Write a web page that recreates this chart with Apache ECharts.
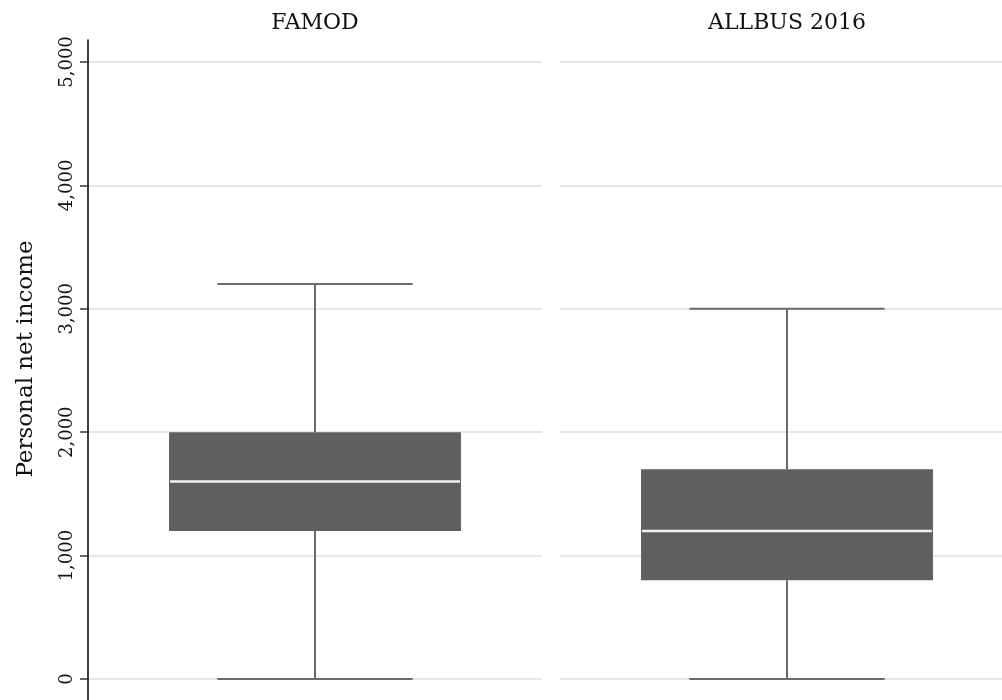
<!DOCTYPE html>
<html>
<head>
<meta charset="utf-8">
<script src="https://cdn.jsdelivr.net/npm/echarts@6/dist/echarts.min.js"></script>
<style>html,body{margin:0;padding:0;background:#fff;}#c{width:1002px;height:700px;}</style>
</head>
<body>
<div id="c"></div>
<script>
// Data
const panels = ['FAMOD', 'ALLBUS 2016'];
// [min, Q1, median, Q3, max]
const famodBox = [0, 1200, 1600, 2000, 3200];
const allbusBox = [0, 800, 1200, 1700, 3000];
const yTicks = [0, 1000, 2000, 3000, 4000, 5000];
const yTitle = 'Personal net income';

const FONT = 'DejaVu Serif';
const chart = echarts.init(document.getElementById('c'), null, {renderer: 'canvas'});

function renderBox(params, api) {
  const cat = api.value(0);
  const vMin = api.value(1), q1 = api.value(2), med = api.value(3), q3 = api.value(4), vMax = api.value(5);
  const band = api.size([1, 0])[0];
  const boxW = band * 0.643;
  const capW = band * 0.43;
  const pMin = api.coord([cat, vMin]);
  const pQ1 = api.coord([cat, q1]);
  const pMed = api.coord([cat, med]);
  const pQ3 = api.coord([cat, q3]);
  const pMax = api.coord([cat, vMax]);
  const cx = pMin[0];
  const wStyle = {stroke: '#6a6a6a', lineWidth: 2};
  return {
    type: 'group',
    children: [
      {type: 'line', shape: {x1: cx, y1: pMax[1], x2: cx, y2: pQ3[1]}, style: wStyle},
      {type: 'line', shape: {x1: cx, y1: pQ1[1], x2: cx, y2: pMin[1]}, style: wStyle},
      {type: 'line', shape: {x1: cx - capW / 2, y1: pMax[1], x2: cx + capW / 2, y2: pMax[1]}, style: wStyle},
      {type: 'line', shape: {x1: cx - capW / 2, y1: pMin[1], x2: cx + capW / 2, y2: pMin[1]}, style: wStyle},
      {type: 'rect', shape: {x: cx - boxW / 2, y: pQ3[1], width: boxW, height: pQ1[1] - pQ3[1]}, style: {fill: '#5f5f5f'}},
      {type: 'line', shape: {x1: cx - boxW / 2 + 1, y1: pMed[1], x2: cx + boxW / 2 - 1, y2: pMed[1]}, style: {stroke: '#f2f2f2', lineWidth: 2.5}}
    ]
  };
}

function makeY(idx, showAxis) {
  return {
    type: 'value', gridIndex: idx, min: -170, max: 5178,
    axisLine: {show: showAxis, onZero: false, lineStyle: {color: '#000', width: 1.5}},
    axisTick: {show: showAxis, length: 8, customValues: yTicks, lineStyle: {color: '#333', width: 1.5}},
    axisLabel: {
      show: showAxis, customValues: yTicks, rotate: 90, margin: 12,
      fontFamily: FONT, fontSize: 18, color: '#111',
      formatter: v => v.toLocaleString('en-US')
    },
    splitLine: {show: true, lineStyle: {color: '#e6e6e6', width: 2}},
    name: showAxis ? yTitle : '', nameLocation: 'middle', nameRotate: 90, nameGap: 50,
    nameTextStyle: {fontFamily: FONT, fontSize: 23, color: '#111', padding: [0, 0, 0, 22]}
  };
}

function makeX(idx, cat) {
  return {
    type: 'category', gridIndex: idx, data: [cat], position: 'top',
    axisLine: {show: false, onZero: false}, axisTick: {show: false},
    axisLabel: {show: true, margin: 6, fontFamily: FONT, fontSize: 22, color: '#111'},
    splitLine: {show: false}
  };
}

chart.setOption({
  animation: false,
  backgroundColor: '#fff',
  grid: [
    {left: 88, width: 454, top: 40, bottom: 0, outerBoundsMode: 'none'},
    {left: 560, width: 454, top: 40, bottom: 0, outerBoundsMode: 'none'}
  ],
  xAxis: [makeX(0, panels[0]), makeX(1, panels[1])],
  yAxis: [makeY(0, true), makeY(1, false)],
  series: [
    {type: 'custom', xAxisIndex: 0, yAxisIndex: 0, renderItem: renderBox, clip: false,
     encode: {x: 0, y: [1, 2, 3, 4, 5]}, data: [[0].concat(famodBox)]},
    {type: 'custom', xAxisIndex: 1, yAxisIndex: 1, renderItem: renderBox, clip: false,
     encode: {x: 0, y: [1, 2, 3, 4, 5]}, data: [[0].concat(allbusBox)]}
  ]
});
</script>
</body>
</html>
